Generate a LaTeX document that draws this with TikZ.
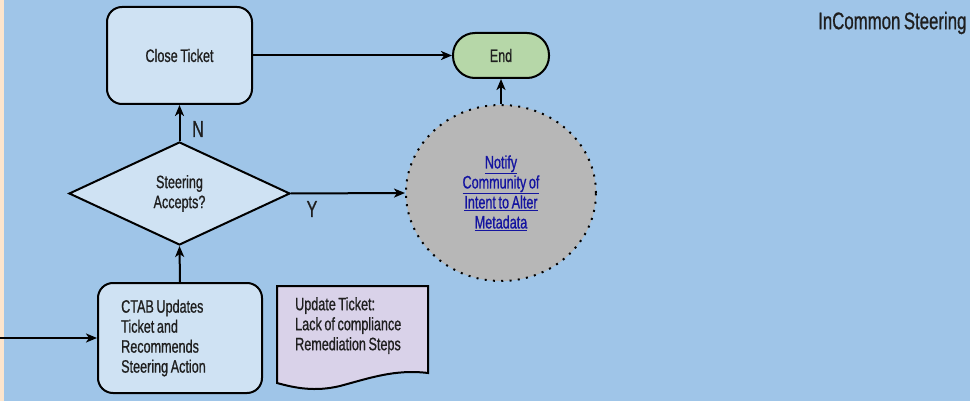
\documentclass[tikz,border=0pt]{standalone}
\usepackage{fontspec}
\setmainfont{Liberation Sans}[FakeStretch=0.7, FakeBold=0.8, WordSpace=0.75]
\usetikzlibrary{shapes.geometric,arrows.meta}
\definecolor{bg}{HTML}{9FC5E8}
\definecolor{peach}{HTML}{FCE5CD}
\definecolor{boxfill}{HTML}{CFE2F3}
\definecolor{endfill}{HTML}{B6D7A8}
\definecolor{grayfill}{HTML}{B7B7B7}
\definecolor{docfill}{HTML}{D9D2E9}
\definecolor{linkblue}{RGB}{20,20,160}
\tikzset{
  procbox/.style={draw=black, line width=2pt, fill=boxfill, rounded corners=15pt, inner sep=0pt},
  conn/.style={line width=2pt, -{Stealth[length=11pt,width=9pt,inset=3pt]}},
  lbl/.style={font=\fontsize{18}{20}\selectfont, text=black!88},
  yn/.style={font=\fontsize{23}{25}\selectfont, text=black!88, inner sep=0pt}
}
\begin{document}
\begin{tikzpicture}[x=1pt,y=-1pt]
\useasboundingbox (0,0) rectangle (970,401);
\clip (0,0) rectangle (970,401);
\fill[bg] (0,0) rectangle (970,401);
\fill[peach] (0,0) rectangle (4,401);

\node[procbox, minimum width=145pt, minimum height=97pt, lbl] (close) at (179.5,55.5) {Close Ticket};
\node[draw=black, line width=2pt, fill=endfill, rounded corners=22pt, minimum width=96pt, minimum height=45pt, inner sep=0pt, lbl] (end) at (501,55.5) {End};
\node[draw=black, line width=2pt, fill=boxfill, diamond, aspect=2.15, minimum width=221pt, minimum height=103pt, inner sep=0pt, align=center, lbl] (dec) at (179.5,193.5) {Steering\\Accepts?};
\node[ellipse, fill=grayfill, draw=black, line width=2pt, dash pattern=on 2pt off 6.3pt, minimum width=190pt, minimum height=176pt, inner sep=0pt, align=center, lbl, text=linkblue] (notify) at (501,193)
  {\underline{Notify}\\\underline{Community of}\\\underline{Intent to Alter}\\\underline{Metadata}};
\node[procbox, minimum width=164pt, minimum height=110pt] (ctab) at (180,338) {};
\node[anchor=west, align=left, inner sep=0pt, lbl] (ctabtext) at (121,338)
  {CTAB Updates\\Ticket and\\Recommends\\Steering Action};

\draw[line width=2pt, fill=docfill] (277,286) -- (428,286) -- (428,373)
  .. controls (395,369) and (370,378) .. (340,386)
  .. controls (315,392) and (295,388) .. (277,383) -- cycle;
\node[anchor=north west, align=left, inner sep=0pt, lbl] (doc) at (295,297)
  {Update Ticket:\\Lack of compliance\\Remediation Steps};

\node[anchor=west, inner sep=0pt, font=\fontsize{24}{26}\selectfont, text=black!88] (title) at (818,23) {InCommon Steering};

\coordinate (in) at (0,338);
\draw[conn] (in) -- (ctab.west);
\draw[conn] (ctab.north) -- (dec.south);
\draw[conn] (dec.north) -- (close.south);
\draw[conn] (dec.east) -- (notify.west);
\draw[conn] (close.east) -- (end.west);
\draw[conn] (notify.north) -- (end.south);
\node[yn] (nlab) at (198,129) {N};
\node[yn] (ylab) at (312,209) {Y};
\end{tikzpicture}
\end{document}
